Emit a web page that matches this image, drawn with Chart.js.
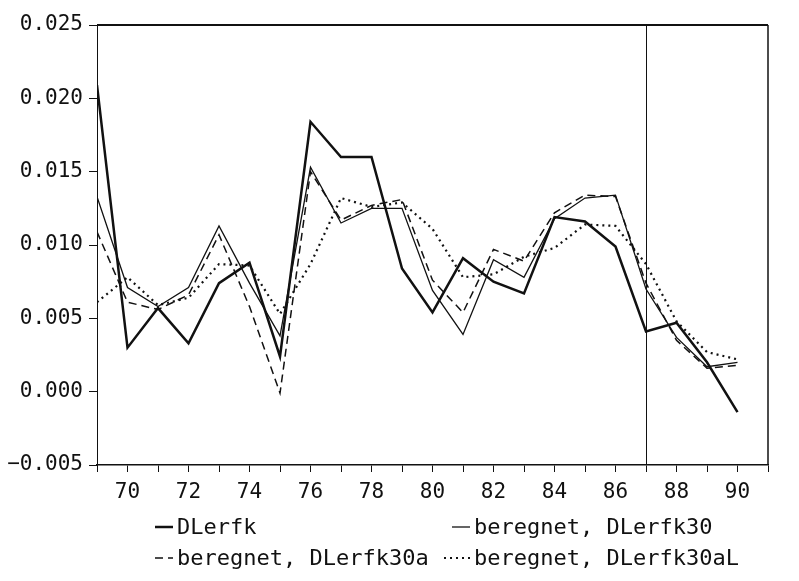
<!DOCTYPE html>
<html>
<head>
<meta charset="utf-8">
<script src="https://cdn.jsdelivr.net/npm/chart.js@4/dist/chart.umd.min.js"></script>
<style>
  html, body { margin: 0; padding: 0; background: #fff; }
  #wrap { width: 799px; height: 581px; }
</style>
</head>
<body>
<div id="wrap"><canvas id="lerfkChart" width="799" height="581"></canvas></div>
<script>
// years 1969-1990
const years = [69, 70, 71, 72, 73, 74, 75, 76, 77, 78, 79, 80, 81, 82, 83, 84, 85, 86, 87, 88, 89, 90];

const dlerfk = [0.0209, 0.0030, 0.0057, 0.0033, 0.0074, 0.0088, 0.0024, 0.0184, 0.0160, 0.0160, 0.0084,
  0.0054, 0.0091, 0.0075, 0.0067, 0.0119, 0.0116, 0.0099, 0.0041, 0.0047, 0.0020, -0.0014];
const beregnet30 = [0.0133, 0.0071, 0.0058, 0.0071, 0.0113, 0.0074, 0.0038, 0.0153, 0.0115, 0.0125, 0.0125,
  0.0069, 0.0039, 0.0090, 0.0078, 0.0118, 0.0132, 0.0134, 0.0070, 0.0037, 0.0017, 0.0020];
const beregnet30a = [0.0109, 0.0061, 0.0056, 0.0066, 0.0107, 0.0058, -0.0001, 0.0150, 0.0117, 0.0127, 0.0131,
  0.0076, 0.0054, 0.0097, 0.0089, 0.0122, 0.0134, 0.0133, 0.0074, 0.0035, 0.0016, 0.0018];
const beregnet30aL = [0.0061, 0.0078, 0.0059, 0.0064, 0.0087, 0.0086, 0.0053, 0.0087, 0.0132, 0.0126, 0.0129,
  0.0111, 0.0078, 0.0080, 0.0092, 0.0098, 0.0114, 0.0113, 0.0087, 0.0048, 0.0027, 0.0022];

const seriesLabels = ['DLerfk', 'beregnet, DLerfk30', 'beregnet, DLerfk30a', 'beregnet, DLerfk30aL'];
const xLabelYears = [70, 72, 74, 76, 78, 80, 82, 84, 86, 88, 90];
const markerYear = 87;

const monoFont = '"DejaVu Sans Mono", "Liberation Mono", monospace';
const ink = '#111';

const toPoints = vals => years.map((yr, i) => ({ x: yr, y: vals[i] }));

// frame around the plot + the vertical marker line
const framePlugin = {
  id: 'frame',
  afterDatasetsDraw(chart) {
    const { ctx, chartArea: a, scales } = chart;
    ctx.save();
    ctx.strokeStyle = ink;
    ctx.lineWidth = 2;
    ctx.beginPath();
    ctx.moveTo(a.left, a.top);
    ctx.lineTo(a.right, a.top);
    ctx.stroke();
    ctx.lineWidth = 1.5;
    ctx.beginPath();
    ctx.moveTo(a.right, a.top);
    ctx.lineTo(a.right, a.bottom);
    ctx.stroke();
    const x = Math.round(scales.x.getPixelForValue(markerYear)) + 0.5;
    ctx.lineWidth = 1;
    ctx.beginPath();
    ctx.moveTo(x, a.top);
    ctx.lineTo(x, a.bottom);
    ctx.stroke();
    ctx.restore();
  }
};

// two-column legend under the axis
const legendPlugin = {
  id: 'twoColLegend',
  afterDraw(chart) {
    const { ctx } = chart;
    const cols = [155, 452];
    const rows = [527, 558];
    ctx.save();
    ctx.font = '22px ' + monoFont;
    ctx.fillStyle = ink;
    ctx.textBaseline = 'middle';
    chart.data.datasets.forEach((ds, i) => {
      const cx = cols[i % 2];
      const cy = rows[Math.floor(i / 2)];
      const sampleStart = i === 3 ? cx - 8 : cx;
      ctx.strokeStyle = ink;
      ctx.lineWidth = ds.borderWidth;
      ctx.setLineDash(ds.borderDash || []);
      ctx.beginPath();
      ctx.moveTo(sampleStart, cy);
      ctx.lineTo(cx + 18, cy);
      ctx.stroke();
      ctx.setLineDash([]);
      ctx.fillText(ds.label, cx + 22, cy + 1);
    });
    ctx.restore();
  }
};

new Chart(document.getElementById('lerfkChart'), {
  type: 'line',
  data: {
    datasets: [
      { label: seriesLabels[0], data: toPoints(dlerfk), borderColor: ink, borderWidth: 2.5 },
      { label: seriesLabels[1], data: toPoints(beregnet30), borderColor: ink, borderWidth: 1.3 },
      { label: seriesLabels[2], data: toPoints(beregnet30a), borderColor: ink, borderWidth: 1.5, borderDash: [8, 5] },
      { label: seriesLabels[3], data: toPoints(beregnet30aL), borderColor: ink, borderWidth: 2.2, borderDash: [2, 4] }
    ]
  },
  options: {
    responsive: false,
    animation: false,
    elements: { point: { radius: 0 }, line: { tension: 0 } },
    layout: { padding: { top: 25, right: 31, left: 0, bottom: 0 } },
    plugins: { legend: { display: false }, tooltip: { enabled: false } },
    scales: {
      x: {
        type: 'linear',
        min: 69,
        max: 91,
        afterFit: s => { s.height = 116; },
        afterBuildTicks: s => { s.ticks = years.concat([91]).map(v => ({ value: v })); },
        ticks: {
          autoSkip: false,
          maxRotation: 0,
          padding: 8,
          color: ink,
          font: { family: monoFont, size: 21 },
          callback: v => (xLabelYears.includes(v) ? String(v) : '')
        },
        grid: { drawOnChartArea: false, tickLength: 7, color: ink, tickWidth: 1 },
        border: { color: ink, width: 1.5 }
      },
      y: {
        min: -0.005,
        max: 0.025,
        afterFit: s => { s.width = 97; },
        ticks: {
          stepSize: 0.005,
          padding: 6,
          color: ink,
          font: { family: monoFont, size: 21 },
          callback: v => (v < -1e-9 ? '\u2212' + Math.abs(v).toFixed(3) : Math.abs(v).toFixed(3))
        },
        grid: { drawOnChartArea: false, tickLength: 8, color: ink, tickWidth: 1 },
        border: { color: ink, width: 1 }
      }
    }
  },
  plugins: [framePlugin, legendPlugin]
});
</script>
</body>
</html>
